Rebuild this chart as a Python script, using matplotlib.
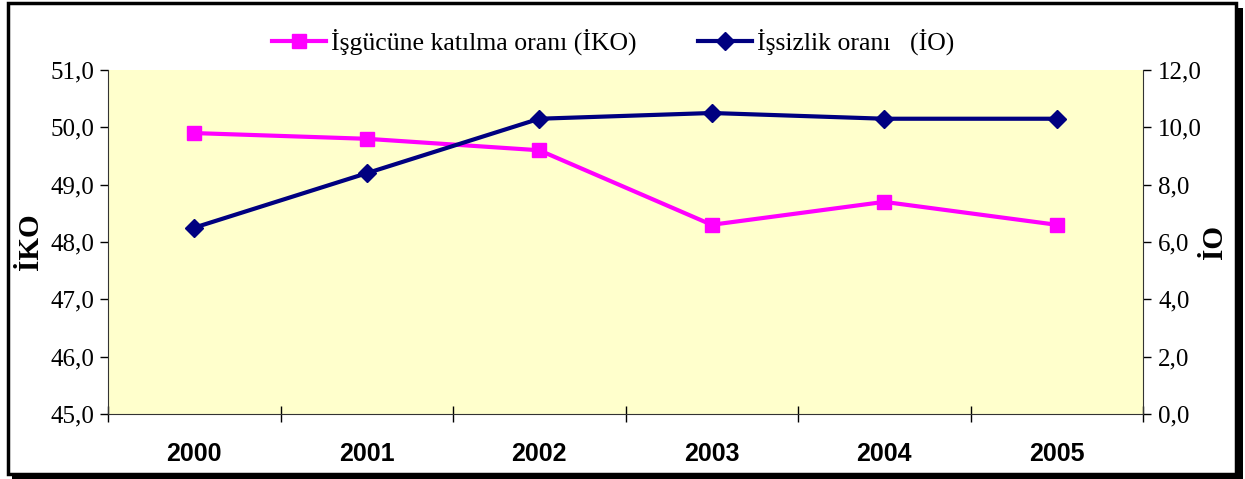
import matplotlib.pyplot as plt
from matplotlib.patches import Rectangle
from matplotlib.ticker import FuncFormatter, FixedLocator
import numpy as np

# veriler
yillar = ["2000", "2001", "2002", "2003", "2004", "2005"]
iko = [49.9, 49.8, 49.6, 48.3, 48.7, 48.3]
io = [6.5, 8.4, 10.3, 10.5, 10.3, 10.3]

W, H = 1245, 479
fig = plt.figure(figsize=(W / 100, H / 100), dpi=100, facecolor="white")

# cerceve + golge (piksel koordinatlari)
def px(x0, y0, x1, y1):
    return (x0 / W, 1 - y1 / H), (x1 - x0) / W, (y1 - y0) / H

xy, w, h = px(12, 8, 1243, 479)
fig.patches.append(Rectangle(xy, w, h, transform=fig.transFigure, facecolor="black", edgecolor="none", zorder=-3))
xy, w, h = px(8, 3, 1236, 474)
fig.patches.append(Rectangle(xy, w, h, transform=fig.transFigure, facecolor="white", edgecolor="black", linewidth=2.5, zorder=-2))

ax = fig.add_axes([108 / W, 1 - 414 / H, (1143 - 108) / W, (414 - 70) / H])
ax.set_facecolor("#FFFFCC")
x = np.arange(len(yillar))

l1, = ax.plot(x, iko, color="#FF00FF", lw=3, marker="s", ms=10, label="İşgücüne katılma oranı (İKO)")
ax.set_xlim(-0.5, len(yillar) - 0.5)
ax.set_ylim(45, 51)
ax.set_yticks(np.arange(45, 51.1, 1))

ax2 = ax.twinx()
l2, = ax2.plot(x, io, color="#000080", lw=3, marker="D", ms=9.5, label="İşsizlik oranı   (İO)")
ax2.set_ylim(0, 12)
ax2.set_yticks(np.arange(0, 12.1, 2))

fmt = FuncFormatter(lambda v, p: f"{v:.1f}".replace(".", ","))
ax.yaxis.set_major_formatter(fmt)
ax2.yaxis.set_major_formatter(fmt)

for a in (ax, ax2):
    a.spines["top"].set_visible(False)
    for s in ("left", "bottom", "right"):
        a.spines[s].set_color("#333333")
ax.spines["right"].set_visible(False)
ax2.spines["left"].set_visible(False)
ax2.spines["bottom"].set_visible(False)

# x ekseni: kategori sinirlarinda tik, etiketler ortada
ax.xaxis.set_major_locator(FixedLocator(np.arange(-0.5, len(yillar), 1)))
ax.set_xticklabels([])
ax.set_xticks(x, minor=True)
ax.set_xticklabels(yillar, minor=True, fontfamily="Liberation Sans", fontweight="bold", fontsize=18)
ax.tick_params(axis="x", which="major", direction="inout", length=12, width=1)
ax.tick_params(axis="x", which="minor", length=0, pad=20)

serif = "Liberation Serif"
ax.tick_params(axis="y", direction="out", length=6, width=1, pad=4, labelsize=18)
ax2.tick_params(axis="y", direction="out", length=6, width=1, pad=5, labelsize=18)
for lab in ax.get_yticklabels() + ax2.get_yticklabels():
    lab.set_fontfamily(serif)

ax.set_ylabel("İKO", fontfamily=serif, fontweight="bold", fontsize=21)
ax.yaxis.set_label_coords(-0.062, 0.5)
ax2.set_ylabel("İO", fontfamily=serif, fontweight="bold", fontsize=21, rotation=90)
ax2.yaxis.set_label_coords(1.056, 0.5)

fig.legend(handles=[l1, l2], loc="center", bbox_to_anchor=(613 / W, 1 - 42 / H), ncol=2,
           frameon=False, prop={"family": serif, "size": 18.5}, handlelength=2.1,
           handletextpad=0.2, columnspacing=2.4)

fig.savefig("out.png", dpi=100, facecolor="white")
